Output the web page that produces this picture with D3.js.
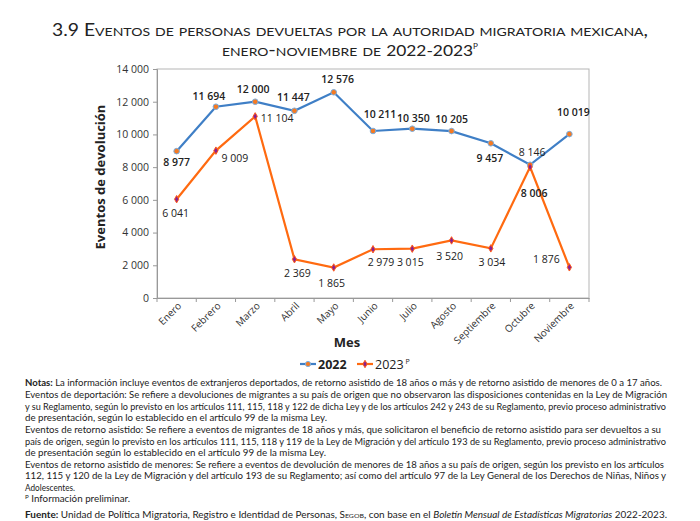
<!DOCTYPE html>
<html><head><meta charset="utf-8">
<script src="https://cdn.jsdelivr.net/npm/d3@7"></script>
<style>
html,body{margin:0;padding:0;background:#fff;}
svg{display:block;}
</style></head>
<body>
<svg id="c" width="700" height="521"></svg>
<script>
const months = ["Enero","Febrero","Marzo","Abril","Mayo","Junio","Julio","Agosto","Septiembre","Octubre","Noviembre"];
const values2022 = [8977,11694,12000,11447,12576,10211,10350,10205,9457,8146,10019];
const values2023 = [6041,9009,11104,2369,1865,2979,3015,3520,3034,8006,1876];
const yTicks = [0,2000,4000,6000,8000,10000,12000,14000];
const seriesNames = ["2022","2023"];

// label layout (offsets from point), kept separate from data
const off2022 = [[0,11],[-7,-11],[-2,-13],[-1,-14],[4,-13],[7,-17],[1,-11],[0,-12],[-1,15],[2,-13],[4,-22]];
const off2023 = [[-1,14],[19,7],[22,2],[3,14],[-2,16],[8,13],[-2,13],[-2,16],[1,14],[4,26],[-23,-8]];
const bold2022 = [1,1,1,1,1,1,1,1,1,0,1];
const bold2023 = [0,0,0,0,0,0,0,0,0,1,0];

const svg = d3.select("#c");
const L=157, R=589, T=69, B=298;
const fmt = v => d3.format(",")(v).replace(/,/g," ");

const x = d3.scaleBand().domain(months).range([L,R]).padding(0);
const y = d3.scaleLinear().domain([0,14000]).range([B,T]);
const cx = m => x(m)+x.bandwidth()/2;

// title
const title = svg.append("g").attr("font-family","Lato, 'Open Sans', sans-serif").attr("fill","#222").attr("text-anchor","middle").attr("font-weight",400);
title.append("text").attr("x",350).attr("y",36).attr("font-size",16.5).style("font-variant","small-caps")
  .attr("textLength",596).attr("lengthAdjust","spacingAndGlyphs")
  .text("3.9 Eventos de personas devueltas por la autoridad migratoria mexicana,");
const t2 = title.append("text").attr("x",350).attr("y",56).attr("font-size",17.5).style("font-variant","small-caps")
  .attr("textLength",256).attr("lengthAdjust","spacingAndGlyphs");
t2.append("tspan").text("enero-noviembre de ");
t2.append("tspan").attr("font-size",15).text("2022-2023");
t2.append("tspan").attr("font-size",7).attr("dy",-7).text("P");

// plot frame
svg.append("rect").attr("x",L).attr("y",T).attr("width",R-L).attr("height",B-T)
  .attr("fill","none").attr("stroke","#b5b5b5").attr("stroke-width",1);

// y axis
const ya = svg.append("g").attr("transform",`translate(${L},0)`)
  .call(d3.axisLeft(y).tickValues(yTicks).tickSize(4).tickFormat(fmt));
ya.select(".domain").attr("stroke","#999");
ya.selectAll(".tick line").attr("stroke","#999");
ya.selectAll(".tick text").attr("font-family","'Open Sans', sans-serif").attr("font-size",10.5).attr("fill","#333").attr("x",-8);

// x axis
const xa = svg.append("g").attr("transform",`translate(0,${B})`)
  .call(d3.axisBottom(x).tickSize(0).tickFormat(d=>d));
xa.select(".domain").attr("stroke","#999");
xa.selectAll(".tick text").attr("font-family","'Open Sans', sans-serif").attr("font-size",10).attr("fill","#333")
  .attr("text-anchor","end").attr("transform","translate(3,6) rotate(-45)").attr("dy","0.35em").attr("y",0).attr("x",0);
// boundary ticks
const bounds = months.map(m=>x(m)).concat([R]);
svg.append("g").selectAll("line").data(bounds).join("line")
  .attr("x1",d=>d).attr("x2",d=>d).attr("y1",B).attr("y2",B+4).attr("stroke","#999");

// axis titles
svg.append("text").attr("transform","translate(105,177) rotate(-90)").attr("text-anchor","middle")
  .attr("font-family","'Open Sans', sans-serif").attr("font-weight","bold").attr("font-size",13).attr("fill","#222")
  .text("Eventos de devolución");
svg.append("text").attr("x",347).attr("y",347).attr("text-anchor","middle")
  .attr("font-family","'Open Sans', sans-serif").attr("font-weight","bold").attr("font-size",13).attr("fill","#222")
  .text("Mes");

const line = d3.line().x((d,i)=>cx(months[i])).y(d=>y(d));
const C22 = "#3f7fc6", C23 = "#ff6a10";

svg.append("path").datum(values2022).attr("d",line).attr("fill","none").attr("stroke",C22).attr("stroke-width",2.2);
svg.append("path").datum(values2023).attr("d",line).attr("fill","none").attr("stroke",C23).attr("stroke-width",2.2);

const diamond = d3.symbol().type(d3.symbolDiamond).size(16);
svg.append("g").selectAll("circle").data(values2022).join("circle")
  .attr("cx",(d,i)=>cx(months[i])).attr("cy",d=>y(d)).attr("r",2.8)
  .attr("fill","#f57a22").attr("stroke","#7aaee0").attr("stroke-width",1);
svg.append("g").selectAll("path").data(values2023).join("path")
  .attr("d",diamond).attr("transform",(d,i)=>`translate(${cx(months[i])},${y(d)})`)
  .attr("fill","#8a1f8f").attr("stroke","#ff5a1a").attr("stroke-width",1);

// data labels
function labels(vals, offs, bolds){
  svg.append("g").selectAll("text").data(vals).join("text")
    .attr("x",(d,i)=>cx(months[i])+offs[i][0]).attr("y",(d,i)=>y(d)+offs[i][1])
    .attr("dominant-baseline","central").attr("text-anchor","middle")
    .attr("font-family","'Open Sans', sans-serif").attr("font-size",10.5)
    .attr("font-weight",(d,i)=>bolds[i]?"600":"normal").attr("fill","#222")
    .text(fmt);
}
labels(values2022, off2022, bold2022);
labels(values2023, off2023, bold2023);

// legend
const lg = svg.append("g").attr("font-family","'Open Sans', sans-serif").attr("font-size",12.5).attr("fill","#222");
lg.append("line").attr("x1",300).attr("x2",316).attr("y1",364).attr("y2",364).attr("stroke",C22).attr("stroke-width",2.2);
lg.append("circle").attr("cx",308).attr("cy",364).attr("r",2.6).attr("fill","#f57a22").attr("stroke","#7aaee0");
lg.append("text").attr("x",318).attr("y",364).attr("dominant-baseline","central").attr("font-weight","bold").text(seriesNames[0]);
lg.append("line").attr("x1",357).attr("x2",373).attr("y1",364).attr("y2",364).attr("stroke",C23).attr("stroke-width",2.2);
lg.append("path").attr("d",diamond).attr("transform","translate(365,364)").attr("fill","#8a1f8f").attr("stroke","#ff5a1a");
const lt = lg.append("text").attr("x",375).attr("y",364).attr("dominant-baseline","central");
lt.append("tspan").text(seriesNames[1]);
lt.append("tspan").attr("font-size",7).attr("dx",2).attr("dy",-3).text("P");

// notes
const notes = svg.append("g").attr("font-family","Lato, 'Open Sans', sans-serif").attr("font-size",8.6).attr("fill","#222");
const NL = 25;
function noteLine(yy, parts, len){
  const t = notes.append("text").attr("x",NL).attr("y",yy);
  if(len) t.attr("textLength",len).attr("lengthAdjust","spacingAndGlyphs");
  parts.forEach(p=>{
    const s=t.append("tspan").text(p.t);
    if(p.b) s.attr("font-weight","bold");
    if(p.i) s.attr("font-style","italic");
    if(p.sc) s.style("font-variant","small-caps");
    if(p.sup) s.attr("font-size",5.5).attr("baseline-shift","super");
  });
  return t;
}
noteLine(386,[{t:"Notas:",b:1},{t:" La información incluye eventos de extranjeros deportados, de retorno asistido de 18 años o más y de retorno asistido de menores de 0 a 17 años."}],637);
noteLine(398,[{t:"Eventos de deportación: Se refiere a devoluciones de migrantes a su país de origen que no observaron las disposiciones contenidas en la Ley de Migración"}],642);
noteLine(409.5,[{t:"y su Reglamento, según lo previsto en los artículos 111, 115, 118 y 122 de dicha Ley y de los artículos 242 y 243 de su Reglamento, previo proceso administrativo"}],641);
noteLine(421,[{t:"de presentación, según lo establecido en el artículo 99 de la misma Ley."}],302);
noteLine(433,[{t:"Eventos de retorno asistido: Se refiere a eventos de migrantes de 18 años y más, que solicitaron el beneficio de retorno asistido para ser devueltos a su"}],636);
noteLine(444.5,[{t:"país de origen, según lo previsto en los artículos 111, 115, 118 y 119 de la Ley de Migración y del artículo 193 de su Reglamento, previo proceso administrativo"}],641);
noteLine(456,[{t:"de presentación según lo establecido en el artículo 99 de la misma Ley."}],301);
noteLine(467.5,[{t:"Eventos de retorno asistido de menores: Se refiere a eventos de devolución de menores de 18 años a su país de origen, según los previsto en los artículos"}],639);
noteLine(479,[{t:"112, 115 y 120 de la Ley de Migración y del artículo 193 de su Reglamento; así como del artículo 97 de la Ley General de los Derechos de Niñas, Niños y"}],641);
noteLine(490.5,[{t:"Adolescentes."}],50);
noteLine(502,[{t:"P",sup:1},{t:" Información preliminar."}],105);
noteLine(518,[{t:"Fuente:",b:1},{t:" Unidad de Política Migratoria, Registro e Identidad de Personas, "},{t:"Segob",sc:1},{t:", con base en el "},{t:"Boletín Mensual de Estadísticas Migratorias",i:1},{t:" 2022-2023."}],642);
</script>
</body></html>
